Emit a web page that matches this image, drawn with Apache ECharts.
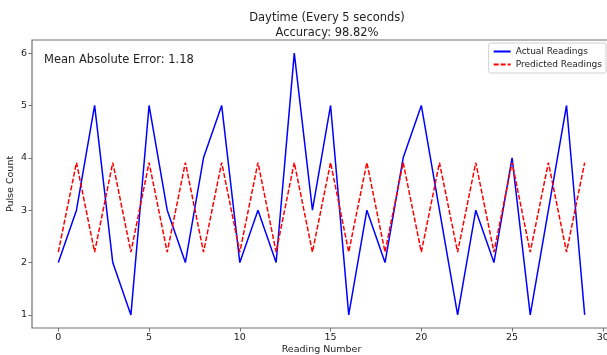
<!DOCTYPE html>
<html>
<head>
<meta charset="utf-8">
<script src="https://cdn.jsdelivr.net/npm/echarts@6/dist/echarts.min.js"></script>
<style>
  html, body { margin: 0; padding: 0; background: #fff; }
  #chart { width: 607px; height: 355px; }
</style>
</head>
<body>
<div id="chart"></div>
<script>
// reading index on the x axis
const readingNumbers = [0, 1, 2, 3, 4, 5, 6, 7, 8, 9, 10, 11, 12, 13, 14,
  15, 16, 17, 18, 19, 20, 21, 22, 23, 24, 25, 26, 27, 28, 29];
const actualReadings = [2, 3, 5, 2, 1, 5, 3, 2, 4, 5, 2, 3, 2, 6, 3,
  5, 1, 3, 2, 4, 5, 3, 1, 3, 2, 4, 1, 3, 5, 1];
const predictedReadings = [2.2, 3.91, 2.2, 3.91, 2.2, 3.91, 2.2, 3.91, 2.2, 3.91,
  2.2, 3.91, 2.2, 3.91, 2.2, 3.91, 2.2, 3.91, 2.2, 3.91,
  2.2, 3.91, 2.2, 3.91, 2.2, 3.91, 2.2, 3.91, 2.2, 3.91];
const xTicks = [0, 5, 10, 15, 20, 25, 30];
const yTicks = [1, 2, 3, 4, 5, 6];

const font = 'DejaVu Sans';
const spine = '#707070';

const myChart = echarts.init(document.getElementById('chart'));
const option = {
  animation: false,
  textStyle: { fontFamily: font },
  title: {
    text: 'Daytime (Every 5 seconds)\nAccuracy: 98.82%',
    left: 322,
    top: 6,
    textAlign: 'center',
    textStyle: { fontFamily: font, fontSize: 11.5, fontWeight: 'normal', color: '#222', lineHeight: 14.5 }
  },
  // 坐标区域，右边框超出画面
  grid: {
    left: 32,
    right: -4,
    top: 40,
    bottom: 27,
    outerBoundsMode: 'none',
    show: true,
    borderColor: spine,
    borderWidth: 1.2,
    backgroundColor: '#fff'
  },
  legend: {
    orient: 'vertical',
    right: 1,
    top: 43,
    itemWidth: 17,
    itemHeight: 8,
    itemGap: 4,
    padding: [4, 4, 4, 4],
    borderColor: '#d0d0d0',
    borderWidth: 1,
    borderRadius: 2,
    backgroundColor: '#fff',
    itemStyle: { opacity: 0 },
    textStyle: { fontFamily: font, fontSize: 9, color: '#222' },
    data: ['Actual Readings', 'Predicted Readings']
  },
  graphic: [{
    type: 'text',
    left: 44,
    top: 54,
    style: { text: 'Mean Absolute Error: 1.18', font: '11.5px "DejaVu Sans"', fill: '#222' }
  }],
  xAxis: {
    type: 'value',
    min: -1.45,
    max: 30.45,
    name: 'Reading Number',
    nameLocation: 'middle',
    nameGap: 17,
    nameMoveOverlap: false,
    nameTextStyle: { fontFamily: font, fontSize: 9.5, color: '#222' },
    axisLine: { show: false, onZero: false },
    splitLine: { show: false },
    axisTick: { show: true, length: 3.5, lineStyle: { color: spine }, customValues: xTicks },
    axisLabel: { fontSize: 9.5, color: '#222', margin: 5, customValues: xTicks }
  },
  yAxis: {
    type: 'value',
    min: 0.75,
    max: 6.25,
    name: 'Pulse Count',
    nameLocation: 'middle',
    nameGap: 16,
    nameMoveOverlap: false,
    nameTextStyle: { fontFamily: font, fontSize: 9.5, color: '#222' },
    axisLine: { show: false, onZero: false },
    splitLine: { show: false },
    axisTick: { show: true, length: 3.5, lineStyle: { color: spine }, customValues: yTicks },
    axisLabel: { fontSize: 9.5, color: '#222', margin: 5, customValues: yTicks }
  },
  series: [
    {
      name: 'Actual Readings',
      type: 'line',
      data: readingNumbers.map((x, i) => [x, actualReadings[i]]),
      symbol: 'none',
      color: '#0000ff',
      lineStyle: { width: 1.5, color: '#0000ff' }
    },
    {
      name: 'Predicted Readings',
      type: 'line',
      data: readingNumbers.map((x, i) => [x, predictedReadings[i]]),
      symbol: 'none',
      color: '#ff0000',
      lineStyle: { width: 1.5, color: '#ff0000', type: [5, 2] }
    }
  ]
};
myChart.setOption(option);
</script>
</body>
</html>
